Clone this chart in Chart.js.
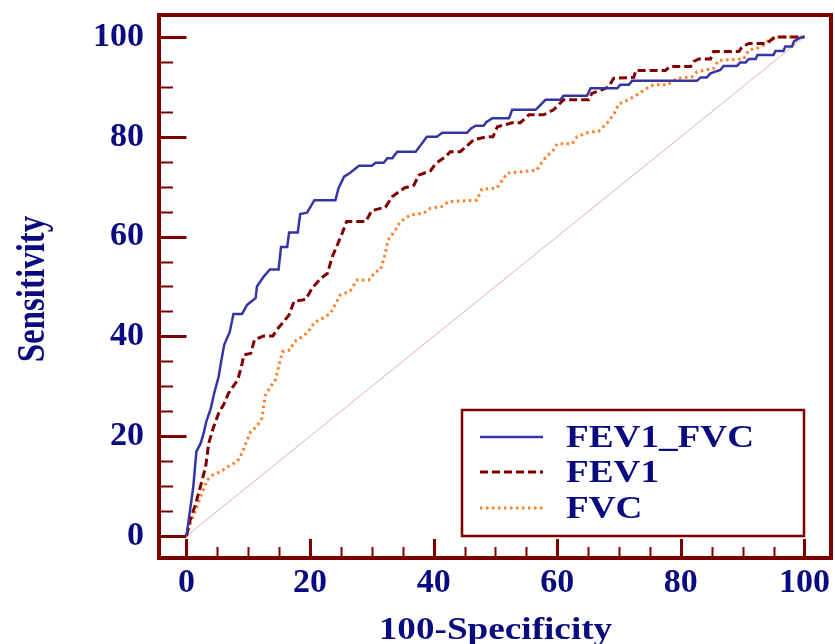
<!DOCTYPE html>
<html>
<head>
<meta charset="utf-8">
<title>ROC curves</title>
<script src="https://cdn.jsdelivr.net/npm/chart.js@4.4.1/dist/chart.umd.min.js"></script>
<style>
    html, body { margin: 0; padding: 0; background: #fff; }
    #wrap { width: 835px; height: 644px; }
</style>
</head>
<body>
<div id="wrap"><canvas id="rocChart" width="835" height="644"></canvas></div>
<script>
// axis ticks
const tickValues = [0, 20, 40, 60, 80, 100];
const minorTickValues = [0, 5, 10, 15, 20, 25, 30, 35, 40, 45, 50, 55, 60, 65, 70, 75, 80, 85, 90, 95, 100];

// series (100-Specificity on x, Sensitivity on y)
const seriesNames = ['FEV1_FVC', 'FEV1', 'FVC'];

const fev1FvcX = [0, 1.1, 1.6, 2.3, 2.8, 3.2, 3.9, 4.5, 5.2, 5.6, 6.1, 7.0, 7.6, 9.0, 9.8, 11.2, 11.4, 12.5, 13.5, 14.9,
    15.3, 16.3, 16.6, 18.0, 18.4, 19.5, 20.7, 24.1, 24.6, 25.5, 26.5, 27.9, 30.0, 30.6, 31.9, 32.5, 33.3, 34.1, 37.1, 38.9,
    40.5, 41.4, 45.4, 46.0, 46.8, 48.1, 48.5, 49.5, 52.2, 52.7, 56.5, 58.1, 60.5, 61.0, 64.8, 65.4, 69.7, 70.2, 71.6, 72.1,
    82.6, 83.2, 84.2, 84.8, 86.4, 86.9, 89.1, 89.6, 90.5, 91.0, 92.1, 92.4, 95.0, 95.3, 96.6, 96.9, 98.0, 98.3, 99.4, 100];
const fev1FvcY = [0, 9.9, 16.9, 18.6, 20.7, 22.9, 25.4, 28.7, 31.9, 34.9, 38.3, 40.9, 44.5, 44.5, 46.3, 47.7, 50.0, 52.0, 53.4, 53.4,
    57.9, 57.9, 60.8, 60.8, 64.5, 64.8, 67.3, 67.3, 69.7, 72.0, 72.8, 74.2, 74.2, 74.8, 74.8, 75.7, 75.7, 77.0, 77.0, 80.0,
    80.0, 80.8, 80.8, 81.6, 82.2, 82.2, 82.9, 83.7, 83.7, 85.4, 85.4, 87.4, 87.4, 88.2, 88.2, 89.7, 89.7, 90.4, 90.4, 91.2,
    91.2, 91.9, 91.9, 92.7, 93.4, 94.2, 94.2, 94.9, 94.9, 95.6, 95.6, 96.4, 96.4, 97.2, 97.2, 98.1, 98.1, 99.1, 99.9, 100];

const fev1X = [0, 0.6, 1.5, 2.4, 3.1, 3.6, 4.4, 5.2, 6.0, 6.8, 7.5, 8.3, 9.0, 9.3, 10.4, 11.0, 12.5, 14.0, 14.6, 15.7,
    16.6, 17.4, 19.3, 20.3, 21.7, 22.8, 23.6, 24.4, 25.2, 25.9, 29.0, 30.0, 32.2, 33.3, 35.2, 36.8, 37.6, 39.5, 40.3, 41.9,
    42.7, 44.3, 46.5, 48.7, 49.6, 50.3, 52.7, 54.0, 55.4, 57.8, 59.4, 61.0, 65.1, 65.6, 67.2, 68.3, 69.1, 72.4, 72.7, 77.5,
    78.3, 81.6, 82.1, 82.9, 84.8, 85.3, 89.4, 89.9, 91.0, 93.9, 94.5, 95.3, 100];
const fev1Y = [0, 3.2, 6.5, 10.6, 13.9, 18.6, 21.9, 24.6, 26.3, 28.6, 29.9, 31.3, 34.6, 36.3, 36.6, 39.3, 40.1, 40.1, 41.3, 42.9,
    44.3, 47.0, 47.4, 49.6, 51.6, 52.6, 56.0, 58.3, 60.7, 63.0, 63.0, 65.2, 65.9, 68.0, 69.7, 70.3, 72.3, 73.2, 74.6, 76.0,
    77.0, 77.0, 79.4, 80.0, 80.0, 82.0, 82.8, 82.8, 84.4, 84.4, 85.4, 87.4, 87.4, 88.7, 89.4, 90.0, 91.7, 91.9, 93.3, 93.3,
    94.1, 94.1, 95.1, 95.6, 95.6, 97.1, 97.1, 98.0, 98.7, 98.7, 99.3, 100, 100];

const fvcX = [0, 0.6, 1.5, 2.5, 3.3, 4.2, 5.5, 7.1, 8.2, 9.0, 9.8, 10.4, 11.4, 12.2, 12.5, 12.8, 13.6, 14.4, 14.9, 15.5,
    16.8, 17.4, 19.0, 20.1, 20.6, 21.7, 23.3, 24.9, 26.5, 27.6, 29.5, 30.6, 31.4, 32.2, 32.6, 33.8, 34.6, 36.2, 38.4, 39.5,
    41.3, 42.4, 47.0, 47.8, 50.2, 51.9, 56.7, 57.8, 59.4, 60.0, 62.4, 63.2, 64.8, 66.7, 68.1, 69.1, 70.0, 70.8, 72.4, 74.5,
    75.6, 77.8, 79.4, 81.8, 82.6, 85.3, 86.1, 90.2, 91.0, 92.3, 93.4, 94.2, 95.3, 100];
const fvcY = [0, 2.5, 5.2, 8.6, 11.2, 12.2, 12.9, 14.2, 14.9, 16.6, 19.2, 20.9, 22.0, 23.6, 26.3, 28.3, 29.9, 31.3, 33.9, 36.9,
    37.3, 38.9, 40.1, 41.6, 42.7, 43.4, 44.6, 48.3, 49.1, 51.3, 51.3, 53.0, 53.3, 56.7, 59.3, 61.3, 63.0, 64.3, 64.7, 65.7,
    66.0, 67.0, 67.3, 69.5, 69.7, 72.7, 73.3, 75.4, 77.4, 78.6, 78.6, 80.0, 80.8, 81.1, 82.8, 84.4, 86.6, 87.0, 88.0, 89.7,
    90.4, 90.4, 91.7, 92.0, 93.0, 93.7, 95.3, 95.6, 97.4, 97.7, 98.4, 99.4, 100, 100];

// chance line
const diagonalX = [0, 100];
const diagonalY = [0, 100];

const navy = '#0b0b80';
const maroon = '#7a0000';
const serif = '"Liberation Serif", "Times New Roman", serif';

function toPoints(xs, ys) {
    return xs.map((v, i) => ({ x: v, y: ys[i] }));
}

// text in the original is a little wider than plain Times, so stretch it sideways
function stretchedText(ctx, text, x, y, sx, rotate) {
    ctx.save();
    ctx.translate(x, y);
    ctx.scale(sx, 1);
    if (rotate) ctx.rotate(-Math.PI / 2);
    ctx.fillText(text, 0, 0);
    ctx.restore();
}

const rocFrame = {
    id: 'rocFrame',
    afterDraw(chart) {
        const { ctx, chartArea: a, scales: { x, y } } = chart;
        const x0 = x.getPixelForValue(0);
        const y0 = y.getPixelForValue(0);
        ctx.save();
        ctx.strokeStyle = maroon;

        // ticks point inward from the frame
        minorTickValues.forEach(v => {
            const major = tickValues.includes(v);
            ctx.lineWidth = major ? 3 : 2;
            const py = Math.round(y.getPixelForValue(v)) + 0.5;
            ctx.beginPath();
            ctx.moveTo(a.left, py);
            ctx.lineTo(major ? x0 : a.left + 14, py);
            ctx.stroke();
            const px = Math.round(x.getPixelForValue(v)) + 0.5;
            ctx.beginPath();
            ctx.moveTo(px, a.bottom);
            ctx.lineTo(px, major ? y0 + 3 : a.bottom - 11);
            ctx.stroke();
        });

        ctx.lineWidth = 4;
        ctx.strokeRect(a.left, a.top, a.right - a.left, a.bottom - a.top);

        // axis titles
        ctx.fillStyle = navy;
        ctx.textAlign = 'center';
        ctx.textBaseline = 'alphabetic';
        ctx.font = 'bold 31px ' + serif;
        stretchedText(ctx, '100-Specificity', (x0 + x.getPixelForValue(100)) / 2, 639, 1.2, false);
        ctx.font = 'bold 33px ' + serif;
        stretchedText(ctx, 'Sensitivity', 44, 289, 1.2, true);

        // legend box
        ctx.font = 'bold 31px ' + serif;
        const lx = a.left + 303, ly = 410, lw = 342, lh = 126;
        ctx.fillStyle = '#fff';
        ctx.fillRect(lx, ly, lw, lh);
        ctx.lineWidth = 2.5;
        ctx.strokeRect(lx, ly, lw, lh);
        const rows = [437, 472, 508];
        chart.data.datasets.slice(0, 3).forEach((ds, i) => {
            ctx.save();
            ctx.strokeStyle = ds.borderColor;
            ctx.lineWidth = ds.borderWidth;
            ctx.setLineDash(ds.borderDash || []);
            ctx.beginPath();
            ctx.moveTo(lx + 18, rows[i]);
            ctx.lineTo(lx + 81, rows[i]);
            ctx.stroke();
            ctx.restore();
            ctx.fillStyle = navy;
            ctx.textAlign = 'left';
            ctx.textBaseline = 'alphabetic';
            stretchedText(ctx, ds.label, lx + 104, rows[i] + 10, 1.2, false);
        });
        ctx.restore();
    }
};

const ctx = document.getElementById('rocChart').getContext('2d');

new Chart(ctx, {
    type: 'line',
    data: {
        datasets: [{
            label: seriesNames[0],
            data: toPoints(fev1FvcX, fev1FvcY),
            borderColor: '#3535a3',
            borderWidth: 2.5,
            pointRadius: 0,
            tension: 0
        }, {
            label: seriesNames[1],
            data: toPoints(fev1X, fev1Y),
            borderColor: '#800000',
            borderWidth: 3,
            borderDash: [8, 4],
            pointRadius: 0,
            tension: 0
        }, {
            label: seriesNames[2],
            data: toPoints(fvcX, fvcY),
            borderColor: '#ff7f27',
            borderWidth: 3,
            borderDash: [2.5, 3.5],
            pointRadius: 0,
            tension: 0
        }, {
            label: 'reference',
            data: toPoints(diagonalX, diagonalY),
            borderColor: '#dfb0b0',
            borderWidth: 1,
            pointRadius: 0,
            tension: 0
        }]
    },
    options: {
        responsive: false,
        animation: false,
        devicePixelRatio: 1,
        layout: { padding: { top: 15, right: 4, left: 0, bottom: 0 } },
        plugins: {
            legend: { display: false },
            tooltip: { enabled: false }
        },
        scales: {
            x: {
                type: 'linear',
                min: -4.45,
                max: 104.3,
                afterBuildTicks: s => { s.ticks = tickValues.map(v => ({ value: v })); },
                afterFit: s => { s.height = 86; s.paddingLeft = 0; s.paddingRight = 0; },
                grid: { display: false, drawTicks: false, tickLength: 0 },
                border: { display: false },
                ticks: {
                    padding: 5,
                    color: navy,
                    autoSkip: false,
                    maxRotation: 0,
                    font: { family: serif, size: 34, weight: 'bold' }
                }
            },
            y: {
                type: 'linear',
                min: -4.41,
                max: 104.4,
                afterBuildTicks: s => { s.ticks = tickValues.map(v => ({ value: v })); },
                afterFit: s => { s.width = 159; s.paddingTop = 0; s.paddingBottom = 0; },
                grid: { display: false, drawTicks: false, tickLength: 0 },
                border: { display: false },
                ticks: {
                    padding: 15,
                    color: navy,
                    autoSkip: false,
                    font: { family: serif, size: 34, weight: 'bold' }
                }
            }
        }
    },
    plugins: [rocFrame]
});
</script>
</body>
</html>
